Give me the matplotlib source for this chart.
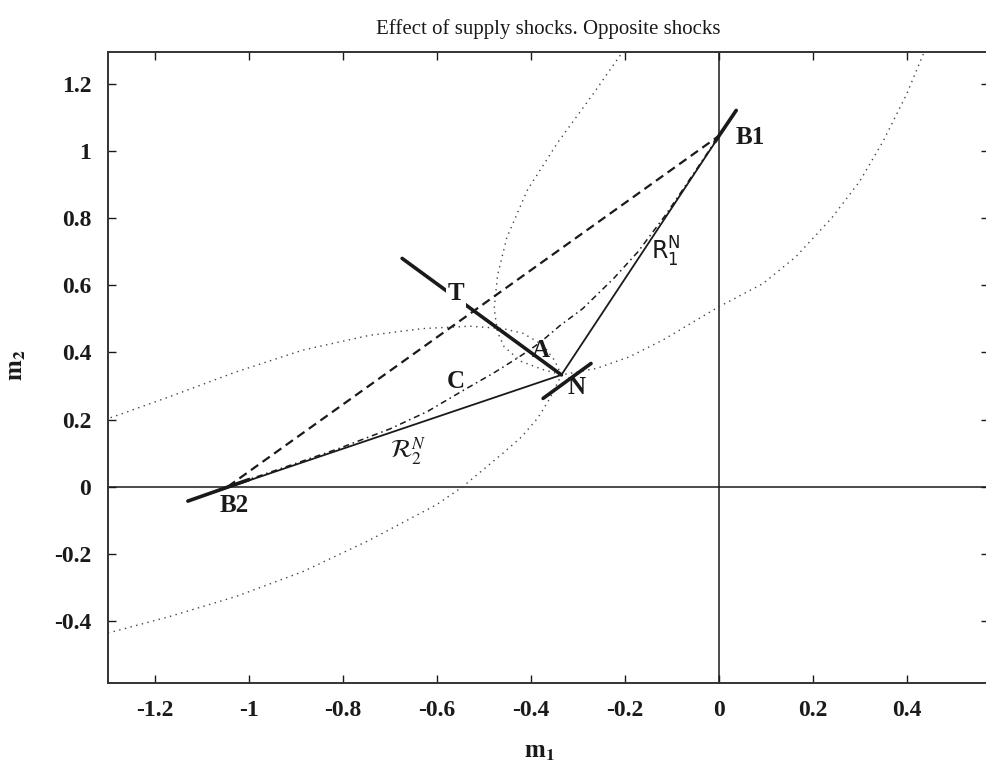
"""
Effect of supply shocks -- opposite shocks
==========================================
Redraw of the m1/m2 policy diagram: bliss points B1, B2, reaction
functions R1^N / R2^N meeting at the Nash point N, the contract curve
(dash-dot), the straight B2-B1 segment (dashed) and the two iso-loss
contours through N (dotted).

Output
------
  out.png
"""

import matplotlib
matplotlib.use("Agg")
import matplotlib.pyplot as plt

# ---------------------------------------------------------------------------
# Data
# ---------------------------------------------------------------------------

N_PT  = (-0.335, 0.333)
B1_PT = (0.0, 1.045)
B2_PT = (-1.045, 0.0)

# reaction functions (thin), end points
R1_X = [N_PT[0], 0.037]
R1_Y = [N_PT[1], 1.121]
R2_X = [N_PT[0], -1.130]
R2_Y = [N_PT[1], -0.043]

# short thick segments
B1_SEG_X = [-0.008, 0.037]
B1_SEG_Y = [1.028, 1.121]
B2_SEG_X = [-1.130, -1.000]
B2_SEG_Y = [-0.043, 0.021]
N_SEG_X  = [-0.374, -0.272]
N_SEG_Y  = [0.263, 0.367]
T_LINE_X = [-0.674, N_PT[0]]
T_LINE_Y = [0.680, N_PT[1]]

# contract curve B2 -> B1
CC_X = [-1.045, -0.93, -0.81, -0.70, -0.62, -0.54, -0.48, -0.43, -0.405,
        -0.38, -0.338, -0.29, -0.224, -0.172, -0.113, -0.055, 0.0]
CC_Y = [0.0, 0.055, 0.113, 0.172, 0.224, 0.290, 0.338, 0.382, 0.405,
        0.43, 0.48, 0.53, 0.62, 0.70, 0.81, 0.93, 1.045]

# iso-loss contour of country 2 through N
E2_X = [-1.33, -1.289, -1.169, -1.027, -0.885, -0.743, -0.630, -0.530,
        -0.460, -0.417, -0.374, -0.350, -0.335, -0.343, -0.360, -0.385,
        -0.420, -0.460, -0.545, -0.601, -0.743, -0.885, -1.027, -1.169,
        -1.289, -1.33]
E2_Y = [0.19, 0.208, 0.268, 0.342, 0.407, 0.451, 0.471, 0.478,
        0.471, 0.457, 0.422, 0.377, 0.333, 0.310, 0.262, 0.205,
        0.148, 0.099, 0.0, -0.054, -0.159, -0.253, -0.327, -0.387,
        -0.432, -0.445]

# iso-loss contour of country 1 through N
E1_X = [-0.19, -0.208, -0.268, -0.342, -0.407, -0.451, -0.471, -0.478,
        -0.471, -0.457, -0.422, -0.377, -0.335, -0.261, -0.190, -0.119,
        0.0, 0.094, 0.164, 0.240, 0.300, 0.350, 0.400, 0.434, 0.46]
E1_Y = [1.33, 1.289, 1.169, 1.027, 0.885, 0.743, 0.630, 0.530,
        0.460, 0.417, 0.374, 0.350, 0.333, 0.352, 0.387, 0.437,
        0.536, 0.605, 0.685, 0.800, 0.910, 1.030, 1.170, 1.285, 1.37]

# point labels
LABELS = ["B1", "B2", "T", "A", "N", "C"]
LABEL_X = [0.067, -1.032, -0.559, -0.378, -0.302, -0.559]
LABEL_Y = [1.040, -0.057, 0.576, 0.407, 0.296, 0.313]

X_TICKS = [-1.2, -1.0, -0.8, -0.6, -0.4, -0.2, 0.0, 0.2, 0.4]
X_TICK_LABELS = ["-1.2", "-1", "-0.8", "-0.6", "-0.4", "-0.2", "0", "0.2", "0.4"]
Y_TICKS = [-0.4, -0.2, 0.0, 0.2, 0.4, 0.6, 0.8, 1.0, 1.2]
Y_TICK_LABELS = ["-0.4", "-0.2", "0", "0.2", "0.4", "0.6", "0.8", "1", "1.2"]

INK = "#1a1a1a"
DOT = "#444444"

# ---------------------------------------------------------------------------
# Plot
# ---------------------------------------------------------------------------

def main():
    plt.rcParams["font.family"] = ["Liberation Serif", "DejaVu Serif"]
    plt.rcParams["mathtext.fontset"] = "stix"

    fig = plt.figure(figsize=(9.87, 7.75), dpi=100)
    ax = fig.add_axes([108 / 987, (775 - 683) / 775, (989 - 108) / 987, (683 - 52) / 775])

    ax.axhline(0, color=INK, lw=1.1, zorder=1)
    ax.axvline(0, color=INK, lw=1.1, zorder=1)

    # dotted iso-loss contours
    ax.plot(E2_X, E2_Y, color=DOT, lw=1.0, dashes=(1, 3.2))
    ax.plot(E1_X, E1_Y, color=DOT, lw=1.0, dashes=(1, 3.2))

    # dashed B2-B1, dash-dot contract curve
    ax.plot([B2_PT[0], B1_PT[0]], [B2_PT[1], B1_PT[1]], color=INK, lw=1.6, dashes=(4, 2.4))
    ax.plot(CC_X, CC_Y, color=INK, lw=1.1, dashes=(4, 2.5, 1, 2.5))

    # reaction functions
    ax.plot(R1_X, R1_Y, color=INK, lw=1.3)
    ax.plot(R2_X, R2_Y, color=INK, lw=1.3)

    for xs, ys in [(B1_SEG_X, B1_SEG_Y), (B2_SEG_X, B2_SEG_Y),
                   (N_SEG_X, N_SEG_Y), (T_LINE_X, T_LINE_Y)]:
        ax.plot(xs, ys, color=INK, lw=2.6, solid_capstyle="round")

    for lab, x, y in zip(LABELS, LABEL_X, LABEL_Y):
        kw = {}
        if lab == "T":
            kw["bbox"] = dict(facecolor="white", edgecolor="none", pad=1.5)
        ax.text(x, y, lab, fontsize=18, fontweight="bold", color=INK,
                ha="center", va="center", zorder=5, **kw)

    ax.text(-0.112, 0.699, r"$\mathrm{R}_\mathrm{1}^\mathrm{N}$", math_fontfamily="dejavusans",
            fontsize=17, color=INK, ha="center", va="center")
    ax.text(-0.662, 0.104, r"$\mathcal{R}_{2}^{N}$",
            fontsize=18, color=INK, ha="center", va="center")

    ax.set_xlim(-1.3, 0.575)
    ax.set_ylim(-0.585, 1.295)
    ax.set_xticks(X_TICKS)
    ax.set_xticklabels(X_TICK_LABELS)
    ax.set_yticks(Y_TICKS)
    ax.set_yticklabels(Y_TICK_LABELS)
    ax.tick_params(direction="in", top=True, right=True, length=6, width=1,
                   labelsize=17, pad=12, colors=INK)
    for lbl in ax.get_xticklabels() + ax.get_yticklabels():
        lbl.set_fontweight("bold")
    for sp in ax.spines.values():
        sp.set_linewidth(1.4)
        sp.set_color("#333333")

    ax.set_title("Effect of supply shocks. Opposite shocks", fontsize=15, pad=13, color=INK)
    ax.set_xlabel(r"m$_\mathbf{1}$", fontsize=18, fontweight="bold", color=INK)
    ax.set_ylabel(r"m$_\mathbf{2}$", fontsize=18, fontweight="bold", color=INK)
    ax.xaxis.set_label_coords(0.49, -0.091)
    ax.yaxis.set_label_coords(-0.091, 0.504)

    fig.savefig("out.png", dpi=100)
    plt.close(fig)


if __name__ == "__main__":
    main()
